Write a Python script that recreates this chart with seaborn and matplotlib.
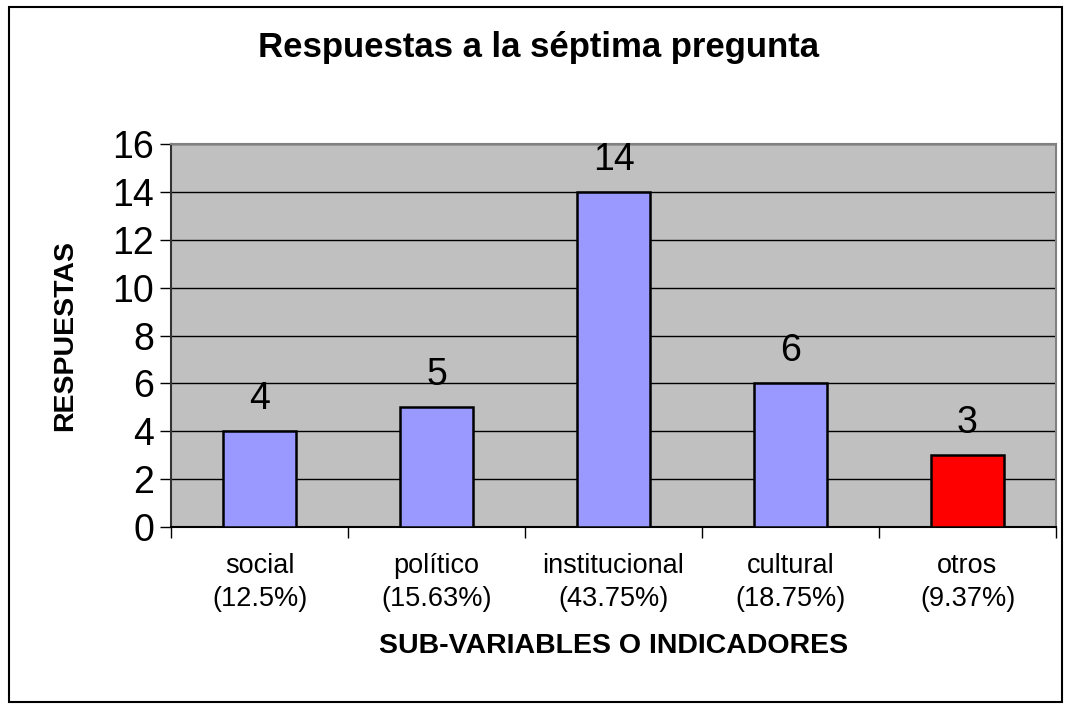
import matplotlib
matplotlib.use("Agg")
import matplotlib.pyplot as plt
import seaborn as sns
import pandas as pd
from matplotlib.patches import Rectangle

categorias = ["social", "político", "institucional", "cultural", "otros"]
porcentajes = ["(12.5%)", "(15.63%)", "(43.75%)", "(18.75%)", "(9.37%)"]
respuestas = [4, 5, 14, 6, 3]
colores = ["#9999FF", "#9999FF", "#9999FF", "#9999FF", "#FF0000"]
yticks = [0, 2, 4, 6, 8, 10, 12, 14, 16]

sns.set_theme(style="white")
plt.rcParams["font.family"] = ["Liberation Sans", "DejaVu Sans"]
plt.rcParams["text.color"] = "black"
plt.rcParams["axes.labelcolor"] = "black"
plt.rcParams["xtick.color"] = "black"
plt.rcParams["ytick.color"] = "black"

df = pd.DataFrame({"cat": categorias, "val": respuestas})

fig = plt.figure(figsize=(10.65, 7.04), dpi=100)
ax = fig.add_axes([171/1065, 1-527/704, (1056-171)/1065, (527-144)/704])
ax.set_facecolor("#C0C0C0")

sns.barplot(data=df, x="cat", y="val", hue="cat", palette=colores, legend=False, saturation=1,
            width=0.41, edgecolor="black", linewidth=1.8, ax=ax, zorder=3)

ax.set_ylim(0, 16)
ax.set_xlim(-0.5, len(categorias) - 0.5)
ax.set_yticks(yticks)
ax.yaxis.grid(True, color="black", linewidth=1.0, zorder=1)
ax.set_axisbelow(True)
ax.tick_params(axis="y", labelsize=27, length=8, width=1, color="black", direction="out", left=True, pad=4)

ax.set_xticks(range(len(categorias)))
ax.set_xticklabels([f"{c}\n{p}" for c, p in zip(categorias, porcentajes)], fontsize=19.5, linespacing=1.32)
ax.tick_params(axis="x", length=0, pad=19)
ax.set_xticks([i - 0.5 for i in range(len(categorias) + 1)], minor=True)
ax.tick_params(axis="x", which="minor", length=8, width=1, color="black", direction="out", bottom=True)

for s in ["top", "right"]:
    ax.spines[s].set_color("#808080")
    ax.spines[s].set_linewidth(1.5)
ax.spines["left"].set_color("#333333")
ax.spines["left"].set_linewidth(1.5)
ax.spines["bottom"].set_color("black")
ax.spines["bottom"].set_linewidth(1.5)

for i, v in enumerate(respuestas):
    ax.text(i, v + 0.58, str(v), ha="center", va="bottom", fontsize=27, color="black")

ax.set_xlabel("SUB-VARIABLES O INDICADORES", fontsize=20.5, fontweight="bold", labelpad=15)
ax.set_ylabel("RESPUESTAS", fontsize=20.5, fontweight="bold", labelpad=25)

fig.text(539/1065, 1-48/704, "Respuestas a la séptima pregunta", ha="center", va="center",
         fontsize=25, fontweight="bold")

fig.patches.append(Rectangle((9/1065, 1-702/704), (1062-9)/1065, (702-7)/704,
                             transform=fig.transFigure, fill=False, edgecolor="black", linewidth=1.5))

fig.savefig("out.png", dpi=100)
